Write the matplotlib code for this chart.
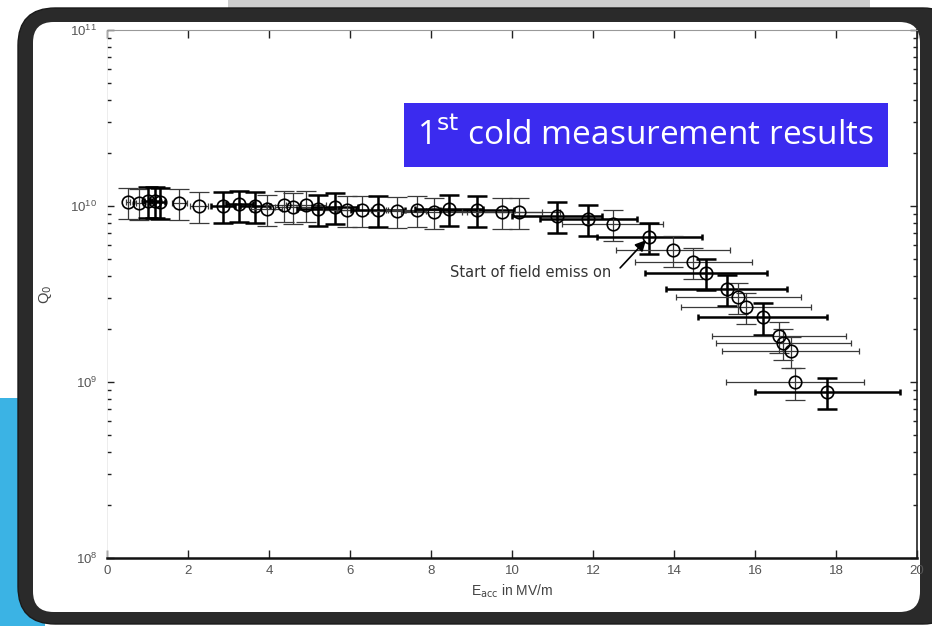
import matplotlib
matplotlib.use("Agg")
import matplotlib.pyplot as plt
from matplotlib.patches import FancyBboxPatch, Rectangle
from matplotlib.ticker import LogLocator, FixedLocator, NullFormatter

# ---- data ----
E_acc = [0.51, 0.80, 1.01, 1.19, 1.31, 1.79, 2.27, 2.87, 3.27, 3.65, 3.94, 4.36,
         4.60, 4.92, 5.22, 5.63, 5.92, 6.30, 6.69, 7.16, 7.65, 8.07, 8.44, 9.14,
         9.75, 10.17, 11.10, 11.88, 12.49, 13.39, 13.98, 14.48, 14.79, 15.30,
         15.59, 15.78, 16.19, 16.60, 16.70, 16.88, 16.99, 17.79]
Q0_e10 = [1.05, 1.035, 1.07, 1.07, 1.05, 1.035, 1.0, 1.0, 1.02, 1.0, 0.96, 1.01,
          0.985, 1.01, 0.96, 0.99, 0.95, 0.95, 0.95, 0.94, 0.95, 0.925, 0.96, 0.95,
          0.925, 0.925, 0.88, 0.84, 0.787, 0.67, 0.562, 0.483, 0.415, 0.339,
          0.303, 0.266, 0.233, 0.183, 0.167, 0.15, 0.0995, 0.0874]
dQ0_e10 = [0.21, 0.207, 0.214, 0.214, 0.21, 0.207, 0.2, 0.2, 0.204, 0.2, 0.192, 0.202,
           0.197, 0.202, 0.192, 0.198, 0.19, 0.19, 0.19, 0.188, 0.19, 0.185, 0.192, 0.19,
           0.185, 0.185, 0.176, 0.168, 0.157, 0.134, 0.112, 0.097, 0.083, 0.068,
           0.061, 0.053, 0.047, 0.037, 0.033, 0.03, 0.02, 0.0175]
dE_acc = [0.05, 0.08, 0.1, 0.12, 0.13, 0.18, 0.23, 0.29, 0.33, 0.37, 0.39, 0.44,
          0.46, 0.49, 0.52, 0.56, 0.59, 0.63, 0.67, 0.72, 0.77, 0.81, 0.84, 0.91,
          0.98, 1.02, 1.11, 1.2, 1.25, 1.3, 1.4, 1.45, 1.5, 1.5,
          1.55, 1.6, 1.6, 1.65, 1.67, 1.7, 1.7, 1.8]
bold = [0, 0, 1, 1, 1, 0, 0, 1, 1, 1, 0, 0,
        0, 0, 1, 1, 0, 0, 1, 0, 0, 0, 1, 1,
        0, 0, 1, 1, 0, 1, 0, 0, 1, 1,
        0, 0, 1, 0, 0, 0, 0, 1]

x_ticks = [0, 2, 4, 6, 8, 10, 12, 14, 16, 18, 20]
title_text = "1$^{\\mathrm{st}}$ cold measurement results"
annot_text = "Start of field emiss on"
annot_text_xy = (8.47, 4.2e9)
arrow_tail = (12.67, 4.45e9)
arrow_head = (13.31, 6.4e9)

W, H = 932, 626
fig = plt.figure(figsize=(W / 100, H / 100), dpi=100)
fig.patch.set_facecolor("white")

def fx(px):
    return px / W

def fy(py):
    return 1 - py / H

# slide background decorations
fig.patches.append(Rectangle((fx(228), fy(22)), fx(870) - fx(228), 22 / H,
                             transform=fig.transFigure, facecolor="#cdcdcd",
                             edgecolor="none", zorder=0))
fig.patches.append(Rectangle((0, 0), fx(45), fy(398),
                             transform=fig.transFigure, facecolor="#3bb3e4",
                             edgecolor="none", zorder=0))
# dark frame
fig.patches.append(FancyBboxPatch((fx(18), fy(624)), fx(960) - fx(18), (624 - 8) / H,
                                  boxstyle="round,pad=0,rounding_size=0.04",
                                  mutation_aspect=W / H,
                                  transform=fig.transFigure, facecolor="#2a2a2a",
                                  edgecolor="#1a1a1a", lw=1, zorder=1))
fig.patches.append(FancyBboxPatch((fx(33), fy(612)), fx(920) - fx(33), (612 - 22) / H,
                                  boxstyle="round,pad=0,rounding_size=0.022",
                                  mutation_aspect=W / H,
                                  transform=fig.transFigure, facecolor="white",
                                  edgecolor="none", zorder=2))

ax = fig.add_axes([fx(107), fy(558), fx(917) - fx(107), (558 - 30) / H])
ax.set_zorder(3)
ax.set_facecolor("none")

Q = [q * 1e10 for q in Q0_e10]
dQ = [d * 1e10 for d in dQ0_e10]

for i in range(len(E_acc)):
    lw = 1.8 if bold[i] else 0.9
    col = "black" if bold[i] else "#3a3a3a"
    ax.errorbar([E_acc[i]], [Q[i]], yerr=[dQ[i]], fmt="none", ecolor=col,
                elinewidth=lw, capsize=7, capthick=lw, zorder=3)
    ax.errorbar([E_acc[i]], [Q[i]], xerr=[dE_acc[i]], fmt="none", ecolor=col,
                elinewidth=lw, capsize=2.5, capthick=lw, zorder=3)
ax.plot(E_acc, Q, linestyle="none", marker="o", markersize=9,
        markerfacecolor="none", markeredgecolor="black", markeredgewidth=1.2,
        zorder=4)

ax.set_yscale("log")
ax.set_xlim(0, 20)
ax.set_ylim(1e8, 1e11)
ax.xaxis.set_major_locator(FixedLocator(x_ticks))
ax.yaxis.set_major_locator(LogLocator(base=10, numticks=10))
ax.yaxis.set_minor_locator(LogLocator(base=10, subs=range(2, 10), numticks=20))
ax.yaxis.set_minor_formatter(NullFormatter())
ax.tick_params(axis="both", which="both", direction="in", top=True, right=True,
               colors="#222222", labelcolor="#555555", labelsize=9.5)
ax.tick_params(axis="x", which="major", length=6, width=1.0, pad=5)
ax.tick_params(axis="y", which="major", length=5, width=1.0, pad=7)
ax.tick_params(axis="y", which="minor", length=3, width=1.0)
for lab in ax.get_xticklabels() + ax.get_yticklabels():
    lab.set_fontfamily("Liberation Sans")

ax.spines["bottom"].set_linewidth(1.8)
ax.spines["bottom"].set_color("#111111")
ax.spines["right"].set_linewidth(1.2)
ax.spines["right"].set_color("#222222")
ax.spines["top"].set_linewidth(0.8)
ax.spines["top"].set_color("#999999")
ax.spines["left"].set_linewidth(0.5)
ax.spines["left"].set_color("#e6e6e6")

ax.set_xlabel("E$_{\\mathrm{acc}}$ in MV/m", fontsize=10, color="#444444",
              family="Liberation Sans", labelpad=4)
ax.yaxis.set_label_coords(-(107 - 46) / 810, 0.5)
ax.set_ylabel("Q$_0$", fontsize=10.5, color="#444444", family="Liberation Sans",
              va="center")

ax.text(annot_text_xy[0], annot_text_xy[1], annot_text, fontsize=10.5,
        color="#333333", family="DejaVu Sans", va="center", ha="left", zorder=5)
ax.annotate("", xy=arrow_head, xytext=arrow_tail,
            arrowprops=dict(arrowstyle="-|>", color="black", lw=1.2,
                            shrinkA=0, shrinkB=0, mutation_scale=16),
            zorder=5)

# title box
fig.patches.append(Rectangle((fx(404), fy(167)), fx(888) - fx(404), (167 - 103) / H,
                             transform=fig.transFigure, facecolor="#3b2bef",
                             edgecolor="none", zorder=9))
fig.text(fx(646), fy(136), title_text, fontsize=24, color="white",
         family="Open Sans", ha="center", va="center", zorder=10)

fig.savefig("out.png", dpi=100, facecolor=fig.get_facecolor())
